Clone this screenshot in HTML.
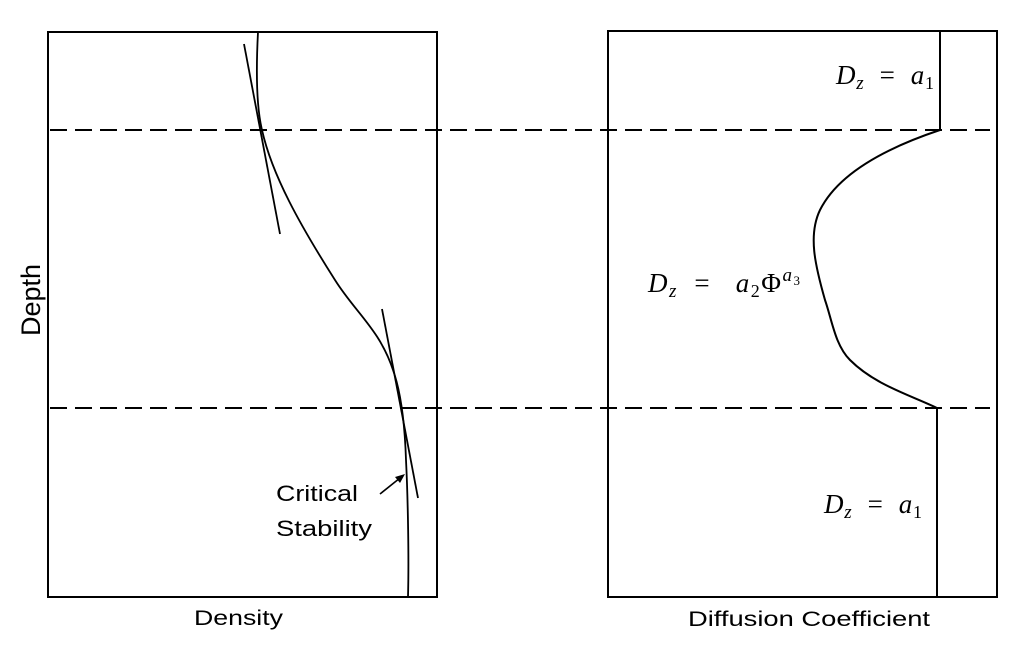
<!DOCTYPE html>
<html><head><style>html,body{margin:0;padding:0;background:#fff;}</style></head>
<body>
<svg width="1015" height="652" viewBox="0 0 1015 652" xmlns="http://www.w3.org/2000/svg">
<rect x="48" y="32" width="389" height="565" fill="none" stroke="#000" stroke-width="2"/>
<rect x="608" y="31" width="389" height="566" fill="none" stroke="#000" stroke-width="2"/>
<line x1="50" y1="130" x2="990" y2="130" stroke="#000" stroke-width="2" stroke-dasharray="17,8"/>
<line x1="50" y1="408" x2="990" y2="408" stroke="#000" stroke-width="2" stroke-dasharray="17,8"/>
<path d="M258,32 C256,70 256,105 262,130 C272,175 300,225 335,280 C355,312 380,330 393,370 C402,395 405,430 406,460 C408,500 409,560 408,597" fill="none" stroke="#000" stroke-width="1.8"/>
<line x1="244" y1="44" x2="280" y2="234" stroke="#000" stroke-width="1.8"/>
<line x1="382" y1="309" x2="418" y2="498" stroke="#000" stroke-width="1.8"/>
<line x1="380" y1="494" x2="400" y2="478" stroke="#000" stroke-width="1.6"/>
<polygon points="405,474 395,477 400,483" fill="#000"/>
<path d="M940,31 L940,130 C895,145 840,170 820,210 C808,235 815,265 825,300 C832,320 835,345 850,360 C875,385 910,395 937,408 L937,597" fill="none" stroke="#000" stroke-width="2"/>
<g font-family="Liberation Serif, serif" font-style="italic" font-size="27" fill="#000">
<text x="836" y="84" textLength="98" lengthAdjust="spacing">D<tspan font-size="19" dy="5">z</tspan><tspan dy="-5" font-style="normal" xml:space="preserve">  =  </tspan>a<tspan font-size="18" dy="5" font-style="normal">1</tspan></text>
<text x="648" y="292" textLength="152" lengthAdjust="spacing">D<tspan font-size="19" dy="5">z</tspan><tspan dy="-5" font-style="normal" xml:space="preserve">  =   </tspan>a<tspan font-size="18" dy="5" font-style="normal">2</tspan><tspan dy="-5" font-style="normal">Φ</tspan><tspan font-size="19" dy="-11">a</tspan><tspan font-size="13" dy="4" font-style="normal">3</tspan></text>
<text x="824" y="513" textLength="98" lengthAdjust="spacing">D<tspan font-size="19" dy="5">z</tspan><tspan dy="-5" font-style="normal" xml:space="preserve">  =  </tspan>a<tspan font-size="18" dy="5" font-style="normal">1</tspan></text>
</g>
<g font-family="Liberation Sans, sans-serif" fill="#000">
<text x="276" y="501" font-size="22" textLength="82" lengthAdjust="spacingAndGlyphs">Critical</text>
<text x="276" y="536" font-size="22" textLength="96" lengthAdjust="spacingAndGlyphs">Stability</text>
<text x="194" y="625" font-size="21" textLength="89" lengthAdjust="spacingAndGlyphs">Density</text>
<text x="688" y="626" font-size="21" textLength="242" lengthAdjust="spacingAndGlyphs">Diffusion Coefficient</text>
<text transform="translate(40,300) rotate(-90)" font-size="27" text-anchor="middle">Depth</text>
</g>
</svg>
</body></html>
